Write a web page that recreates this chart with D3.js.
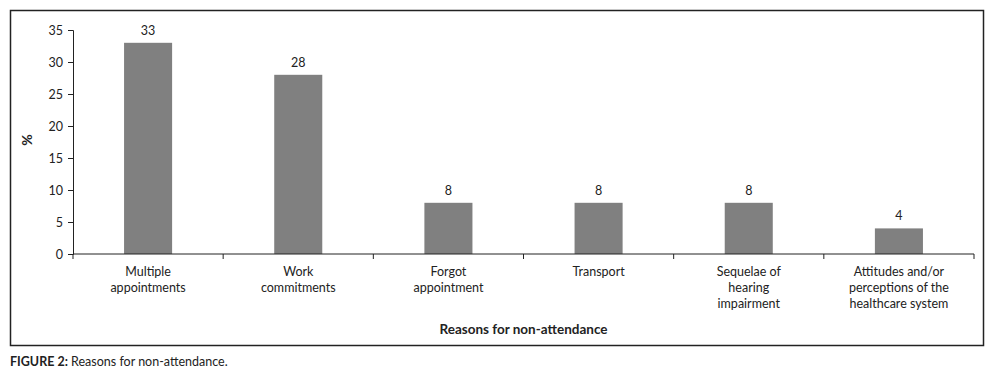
<!DOCTYPE html>
<html>
<head>
<meta charset="utf-8">
<script src="https://cdn.jsdelivr.net/npm/d3@7"></script>
<style>
  body { margin: 0; background: #fff; }
  text { font-family: Lato, "Open Sans", sans-serif; fill: #222; }
</style>
</head>
<body>
<div id="app"></div>
<script>
'use strict'
const categories = [
  ['Multiple', 'appointments'],
  ['Work', 'commitments'],
  ['Forgot', 'appointment'],
  ['Transport'],
  ['Sequelae of', 'hearing', 'impairment'],
  ['Attitudes and/or', 'perceptions of the', 'healthcare system']
]
const values = [33, 28, 8, 8, 8, 4]
const yTicks = [0, 5, 10, 15, 20, 25, 30, 35]

const W = 991, H = 379
const margin = { top: 30, left: 73, right: 17, bottom: 125 }
const width = W - margin.left - margin.right
const height = H - margin.top - margin.bottom

const svg = d3.select('#app').append('svg')
  .attr('width', W)
  .attr('height', H)

// outer frame
svg.append('rect')
  .attr('x', 10.5).attr('y', 10.5)
  .attr('width', 973).attr('height', 335)
  .attr('fill', 'none').attr('stroke', '#222').attr('stroke-width', 1.5)

const g = svg.append('g')
  .attr('transform', `translate(${margin.left}, ${margin.top})`)

const xScale = d3.scaleBand()
  .domain(d3.range(values.length))
  .range([0, width])
  .paddingInner(0.68)
  .paddingOuter(0.34)

const yScale = d3.scaleLinear()
  .domain([0, 35])
  .range([height, 0])

// bars
g.selectAll('rect.bar')
  .data(values)
  .enter()
  .append('rect')
  .attr('class', 'bar')
  .attr('x', (d, i) => xScale(i))
  .attr('y', d => yScale(d))
  .attr('width', xScale.bandwidth())
  .attr('height', d => height - yScale(d))
  .attr('fill', '#808080')

// value labels
g.selectAll('text.val')
  .data(values)
  .enter()
  .append('text')
  .attr('class', 'val')
  .attr('x', (d, i) => xScale(i) + xScale.bandwidth() / 2)
  .attr('y', d => yScale(d) - 8)
  .attr('text-anchor', 'middle')
  .style('font-size', '12.5px')
  .text(d => d)

// y axis
const yAxis = g.append('g')
  .call(d3.axisLeft(yScale).tickValues(yTicks).tickSize(5).tickPadding(5))
yAxis.select('.domain').attr('stroke', '#222')
yAxis.selectAll('line').attr('stroke', '#222')
yAxis.selectAll('text').style('font-size', '12.5px').attr('fill', '#222')
  .style('font-family', 'Lato, sans-serif')

// x axis with ticks at category boundaries
const step = width / values.length
const xAxis = g.append('g').attr('transform', `translate(0, ${height})`)
xAxis.append('line')
  .attr('x1', 0).attr('x2', width)
  .attr('stroke', '#222')
xAxis.selectAll('line.tick')
  .data(d3.range(values.length + 1))
  .enter()
  .append('line')
  .attr('class', 'tick')
  .attr('x1', d => d * step).attr('x2', d => d * step)
  .attr('y1', 0).attr('y2', 5)
  .attr('stroke', '#222')

const catLabels = xAxis.selectAll('text.cat')
  .data(categories)
  .enter()
  .append('text')
  .attr('class', 'cat')
  .attr('text-anchor', 'middle')
  .attr('transform', (d, i) => `translate(${xScale(i) + xScale.bandwidth() / 2}, 22)`)
  .style('font-size', '12.5px')
catLabels.selectAll('tspan')
  .data(d => d)
  .enter()
  .append('tspan')
  .attr('x', 0)
  .attr('dy', (d, i) => i === 0 ? 0 : 16)
  .text(d => d)

// axis titles
g.append('text')
  .attr('x', width / 2)
  .attr('y', height + 80)
  .attr('text-anchor', 'middle')
  .style('font-size', '13.5px')
  .style('font-weight', 'bold')
  .text('Reasons for non-attendance')

g.append('text')
  .attr('transform', `translate(-41, ${height / 2 - 2}) rotate(-90)`)
  .attr('text-anchor', 'middle')
  .style('font-size', '14px')
  .style('font-weight', 'bold')
  .text('%')

// caption
const cap = svg.append('text')
  .attr('x', 10)
  .attr('y', 366)
  .style('font-size', '12.5px')
cap.append('tspan').style('font-weight', 'bold').text('FIGURE 2:')
cap.append('tspan').text(' Reasons for non-attendance.')
</script>
</body>
</html>
